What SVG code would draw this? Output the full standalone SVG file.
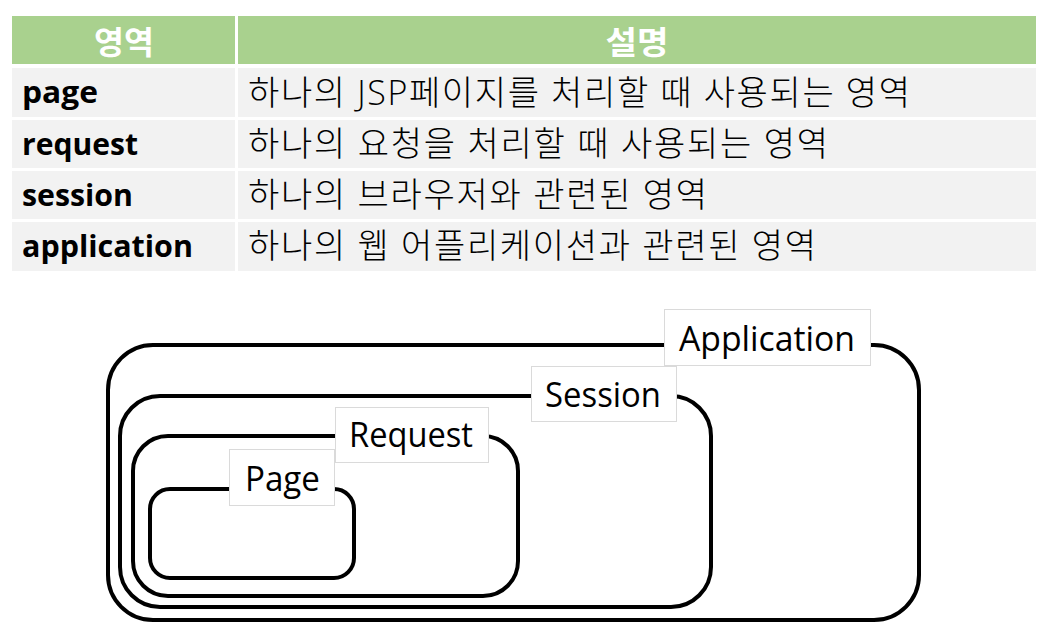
<svg xmlns="http://www.w3.org/2000/svg" width="1054" height="641" viewBox="0 0 1054 641">
<style>
.hdr{fill:#A9D18E}
.cell{fill:#F2F2F2}
.ht{font-family:"Open Sans","Noto Sans CJK KR",sans-serif;font-size:32px;font-weight:bold;fill:#FFFFFF}
.kt{font-family:"Open Sans","Noto Sans CJK KR",sans-serif;font-size:30px;font-weight:bold;fill:#000000}
.dt{font-family:"Open Sans","Noto Sans CJK KR",sans-serif;font-size:34px;font-weight:300;fill:#000000}
.scope{fill:none;stroke:#000000;stroke-width:4}
.lbox{fill:#FFFFFF;stroke:#DADADA;stroke-width:1}
.lt{font-family:"Open Sans","Noto Sans CJK KR",sans-serif;font-size:35px;fill:#000000}
</style>
<rect width="1054" height="641" fill="#FFFFFF"/>
<g id="table">
<rect class="hdr" x="12" y="16" width="223" height="48"/>
<rect class="hdr" x="238" y="16" width="798" height="48"/>
<text class="ht" x="124" y="54" text-anchor="middle" textLength="60" lengthAdjust="spacingAndGlyphs">영역</text>
<text class="ht" x="637" y="54" text-anchor="middle" textLength="63" lengthAdjust="spacingAndGlyphs">설명</text>
<rect class="cell" x="12" y="68" width="223" height="49"/>
<rect class="cell" x="238" y="68" width="798" height="49"/>
<rect class="cell" x="12" y="120" width="223" height="48"/>
<rect class="cell" x="238" y="120" width="798" height="48"/>
<rect class="cell" x="12" y="171" width="223" height="48"/>
<rect class="cell" x="238" y="171" width="798" height="48"/>
<rect class="cell" x="12" y="222" width="223" height="49"/>
<rect class="cell" x="238" y="222" width="798" height="49"/>
<text class="kt" x="22" y="103" textLength="76" lengthAdjust="spacingAndGlyphs">page</text>
<text class="kt" x="22" y="155" textLength="116" lengthAdjust="spacingAndGlyphs">request</text>
<text class="kt" x="22" y="206" textLength="111" lengthAdjust="spacingAndGlyphs">session</text>
<text class="kt" x="22" y="257" textLength="171" lengthAdjust="spacingAndGlyphs">application</text>
<text class="dt" x="248" y="105" textLength="662" lengthAdjust="spacing">하나의 JSP페이지를 처리할 때 사용되는 영역</text>
<text class="dt" x="248" y="156" textLength="580" lengthAdjust="spacing">하나의 요청을 처리할 때 사용되는 영역</text>
<text class="dt" x="248" y="207" textLength="459" lengthAdjust="spacing">하나의 브라우저와 관련된 영역</text>
<text class="dt" x="248" y="258" textLength="568" lengthAdjust="spacing">하나의 웹 어플리케이션과 관련된 영역</text>
</g>
<g id="application">
<rect class="scope" x="108" y="345" width="811" height="275" rx="45"/>
</g>
<g id="session">
<rect class="scope" x="120" y="396" width="591" height="211" rx="40"/>
</g>
<g id="request">
<rect class="scope" x="133" y="436" width="385" height="160" rx="35"/>
</g>
<g id="page">
<rect class="scope" x="150" y="489" width="204" height="89" rx="20"/>
</g>
<g id="application-label">
<rect class="lbox" x="664.5" y="309.5" width="206" height="56"/>
<text class="lt" x="679" y="351" textLength="176" lengthAdjust="spacingAndGlyphs">Application</text>
</g>
<g id="session-label">
<rect class="lbox" x="531.5" y="366.5" width="145" height="55"/>
<text class="lt" x="545" y="407" textLength="116" lengthAdjust="spacingAndGlyphs">Session</text>
</g>
<g id="request-label">
<rect class="lbox" x="335.5" y="407.5" width="153" height="55"/>
<text class="lt" x="349" y="447" textLength="124" lengthAdjust="spacingAndGlyphs">Request</text>
</g>
<g id="page-label">
<rect class="lbox" x="229.5" y="449.5" width="105" height="56"/>
<text class="lt" x="245" y="491" textLength="75" lengthAdjust="spacingAndGlyphs">Page</text>
</g>
</svg>
